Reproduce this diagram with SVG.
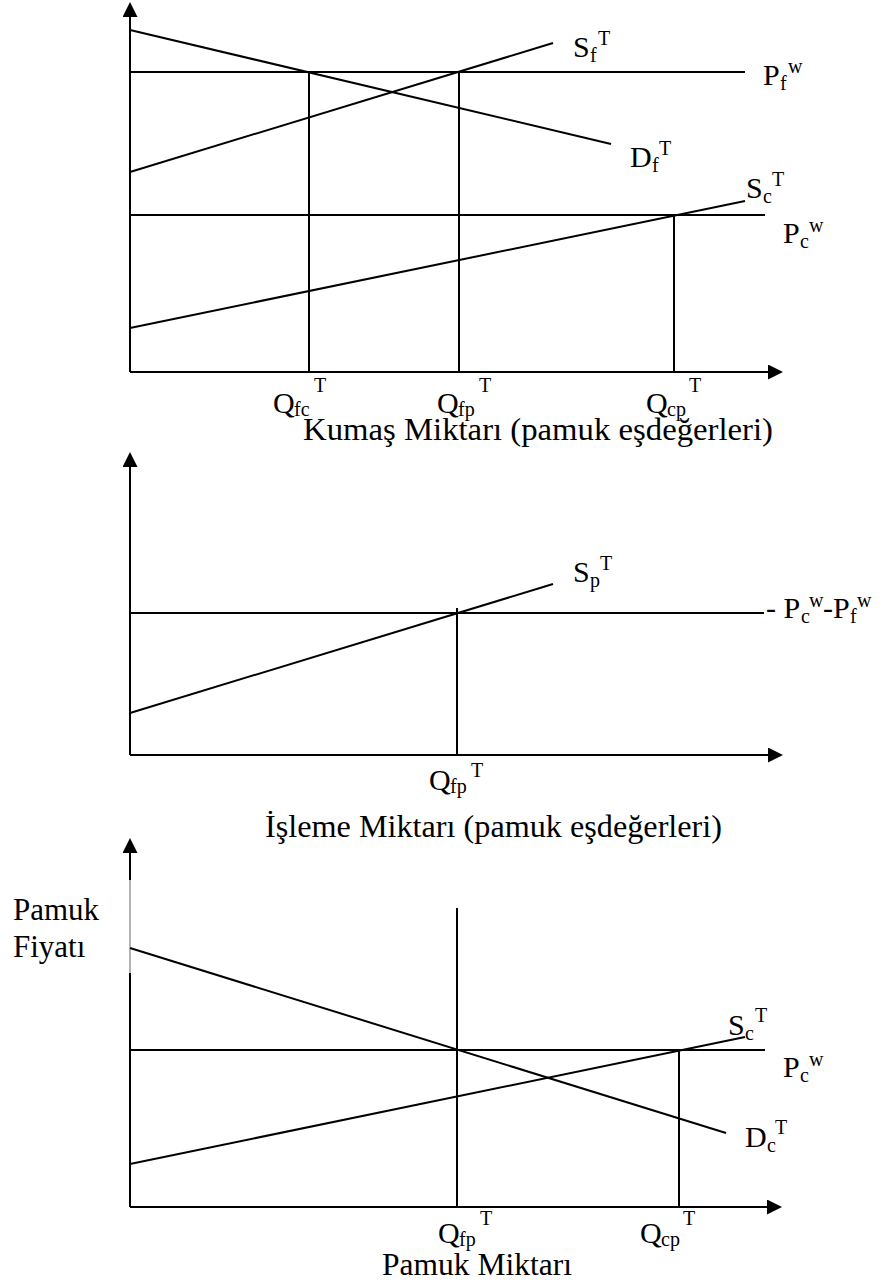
<svg xmlns="http://www.w3.org/2000/svg" width="892" height="1287" viewBox="0 0 892 1287">
<defs>
<marker id="arr" markerUnits="userSpaceOnUse" markerWidth="16" markerHeight="16" refX="0" refY="7.5" orient="auto">
<path d="M0,0 L15,7.5 L0,15 Z" fill="#000"/>
</marker>
<style>
.ln{stroke:#000;stroke-width:2;fill:none}
.ax{stroke:#000;stroke-width:2;fill:none;marker-end:url(#arr)}
.t{font-family:"Liberation Serif","Times New Roman",serif;fill:#000}
.L{font-size:30px}
.B{font-size:31px}
.s{font-size:20px}
</style>
</defs>
<rect width="892" height="1287" fill="#fff"/>

<g id="panel1">
<g id="p1-axes">
<line class="ax" x1="130" y1="372" x2="130" y2="17"/>
<line class="ax" x1="130" y1="372" x2="768" y2="372"/>
</g>
<g id="p1-connectors">
<line class="ln" x1="130" y1="30" x2="611" y2="144"/>
<line class="ln" x1="130" y1="72" x2="745" y2="72"/>
<line class="ln" x1="130" y1="172" x2="553" y2="43"/>
<line class="ln" x1="309" y1="72" x2="309" y2="372"/>
<line class="ln" x1="459" y1="72" x2="459" y2="372"/>
<line class="ln" x1="130" y1="215" x2="765" y2="215"/>
<line class="ln" x1="130" y1="328" x2="745" y2="201"/>
<line class="ln" x1="674" y1="215" x2="674" y2="372"/>
</g>
<g id="p1-labels" class="t">
<g id="Sf"><text class="L" x="573" y="57">S</text><text class="s" x="590" y="62">f</text><text class="s" x="598" y="45">T</text></g>
<g id="Pfw"><text class="L" x="763" y="85">P</text><text class="s" x="780" y="90">f</text><text class="s" x="788" y="73">w</text></g>
<g id="Df"><text class="L" x="630" y="167">D</text><text class="s" x="652" y="172">f</text><text class="s" x="659" y="155">T</text></g>
<g id="Sc1"><text class="L" x="746" y="198">S</text><text class="s" x="763" y="203">c</text><text class="s" x="772" y="186">T</text></g>
<g id="Pcw1"><text class="L" x="783" y="243">P</text><text class="s" x="800" y="248">c</text><text class="s" x="809" y="232">w</text></g>
<g id="Qfc"><text class="L" x="273" y="413">Q</text><text class="s" x="294" y="416">fc</text><text class="s" x="314" y="392">T</text></g>
<g id="Qfp1"><text class="L" x="437" y="413">Q</text><text class="s" x="458" y="416">fp</text><text class="s" x="479" y="392">T</text></g>
<g id="Qcp1"><text class="L" x="646" y="413">Q</text><text class="s" x="667" y="416">cp</text><text class="s" x="689" y="392">T</text></g>
<text class="B" x="303" y="440" textLength="470" lengthAdjust="spacingAndGlyphs">Kumaş Miktarı (pamuk eşdeğerleri)</text>
</g>
</g>

<g id="panel2">
<g id="p2-axes">
<line class="ax" x1="130" y1="755" x2="130" y2="467"/>
<line class="ax" x1="130" y1="755" x2="768" y2="755"/>
</g>
<g id="p2-connectors">
<line class="ln" x1="130" y1="613" x2="764" y2="613"/>
<line class="ln" x1="130" y1="713" x2="553" y2="584"/>
<line class="ln" x1="457" y1="608" x2="457" y2="755"/>
</g>
<g id="p2-labels" class="t">
<g id="Sp"><text class="L" x="573" y="582">S</text><text class="s" x="590" y="587">p</text><text class="s" x="600" y="570">T</text></g>
<g id="PcPf"><text class="L" x="766" y="618">- P</text><text class="s" x="801" y="623">c</text><text class="s" x="809" y="607">w</text><text class="L" x="823" y="618">-P</text><text class="s" x="850" y="623">f</text><text class="s" x="857" y="607">w</text></g>
<g id="Qfp2"><text class="L" x="429" y="790">Q</text><text class="s" x="450" y="793">fp</text><text class="s" x="471" y="777">T</text></g>
<text class="B" x="265" y="837" textLength="457" lengthAdjust="spacingAndGlyphs">İşleme Miktarı (pamuk eşdeğerleri)</text>
</g>
</g>

<g id="panel3">
<g id="p3-axes">
<line class="ax" x1="130" y1="1207" x2="130" y2="853"/>
<line stroke="#b4b4b4" stroke-width="2" x1="130" y1="880" x2="130" y2="973"/>
<line class="ax" x1="130" y1="1207" x2="767" y2="1207"/>
</g>
<g id="p3-connectors">
<line class="ln" x1="130" y1="948" x2="726" y2="1133"/>
<line class="ln" x1="130" y1="1050" x2="765" y2="1050"/>
<line class="ln" x1="130" y1="1164" x2="745" y2="1037"/>
<line class="ln" x1="457" y1="908" x2="457" y2="1207"/>
<line class="ln" x1="679" y1="1050" x2="679" y2="1207"/>
</g>
<g id="p3-labels" class="t">
<text class="B" x="13" y="920">Pamuk</text>
<text class="B" x="13" y="957">Fiyatı</text>
<g id="Sc3"><text class="L" x="728" y="1035">S</text><text class="s" x="745" y="1040">c</text><text class="s" x="755" y="1022">T</text></g>
<g id="Pcw3"><text class="L" x="783" y="1077">P</text><text class="s" x="800" y="1082">c</text><text class="s" x="809" y="1066">w</text></g>
<g id="Dc"><text class="L" x="745" y="1147">D</text><text class="s" x="767" y="1152">c</text><text class="s" x="775" y="1134">T</text></g>
<g id="Qfp3"><text class="L" x="438" y="1243">Q</text><text class="s" x="459" y="1246">fp</text><text class="s" x="480" y="1225">T</text></g>
<g id="Qcp3"><text class="L" x="640" y="1243">Q</text><text class="s" x="661" y="1246">cp</text><text class="s" x="683" y="1225">T</text></g>
<text class="B" x="382" y="1275" textLength="190" lengthAdjust="spacingAndGlyphs">Pamuk Miktarı</text>
</g>
</g>
</svg>
